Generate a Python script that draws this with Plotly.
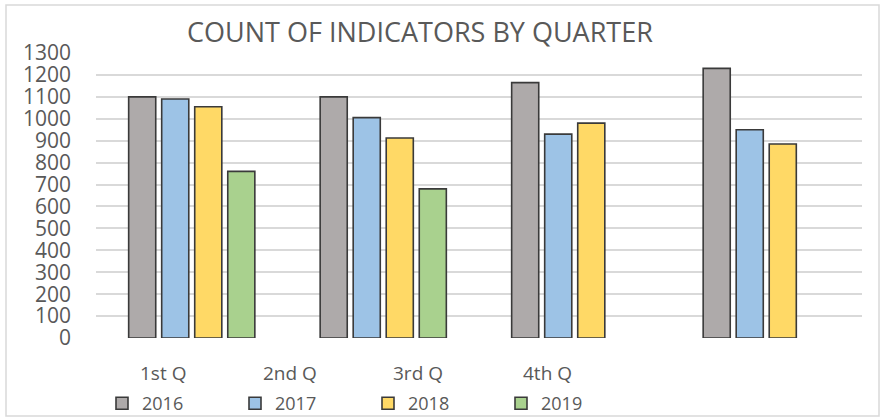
import plotly.graph_objects as go

quarters = ["1st Q", "2nd Q", "3rd Q", "4th Q"]
years = ["2016", "2017", "2018", "2019"]
v2016 = [1100, 1100, 1165, 1230]
v2017 = [1090, 1005, 930, 950]
v2018 = [1055, 912, 980, 885]
v2019 = [760, 680, None, None]
colors = ["#AEAAAA", "#9DC3E6", "#FFD966", "#A9D18E"]
series = [v2016, v2017, v2018, v2019]

W, H = 884, 418
L, R, T, B = 96, 22, 53, 80
font = "Open Sans"
grey = "#595959"

fig = go.Figure()
for name, vals, c in zip(years, series, colors):
    fig.add_trace(go.Bar(
        x=quarters, y=vals, name=name, marker_color=c,
        marker_line_color="#3a3a3a", marker_line_width=1.6,
    ))

# category labels (placed as in the reference)
label_x = [163, 290, 418, 547]
annotations = []
for q, px in zip(quarters, label_x):
    annotations.append(dict(
        text=q, xref="paper", yref="paper",
        x=(px - L) / (W - L - R), y=(H - B - 373) / (H - T - B),
        xanchor="center", yanchor="middle", showarrow=False,
        font=dict(family=font, size=19, color=grey),
    ))

fig.update_layout(
    width=W, height=H,
    margin=dict(l=L, r=R, t=T, b=B, autoexpand=False),
    paper_bgcolor="white", plot_bgcolor="white",
    barmode="group", bargap=0.31, bargroupgap=0.18,
    title=dict(text="COUNT OF INDICATORS BY QUARTER", x=420 / W, xref="container",
               xanchor="center", y=1 - 33 / H, yref="container", yanchor="middle",
               font=dict(family=font, size=27, color=grey)),
    font=dict(family=font, color=grey),
    xaxis=dict(showticklabels=False, showgrid=False, zeroline=False, showline=False, ticks="",
               automargin=False),
    yaxis=dict(range=[0, 1300], dtick=100, showgrid=True, gridcolor="#d9d9d9", gridwidth=1.5,
               zeroline=False, showline=False, ticks="", ticklabelstandoff=24, automargin=False,
               tickfont=dict(family=font, size=21, color=grey)),
    legend=dict(orientation="h", x=102 / W, xref="container", xanchor="left",
                y=1 - 385 / H, yref="container", yanchor="top",
                entrywidth=88, entrywidthmode="pixels", itemwidth=30,
                bgcolor="rgba(0,0,0,0)",
                font=dict(family=font, size=18, color=grey), traceorder="normal"),
    annotations=annotations,
    shapes=[dict(type="rect", xref="paper", yref="paper",
                 x0=(6 - L) / (W - L - R), x1=(879 - L) / (W - L - R),
                 y0=(H - B - 416) / (H - T - B), y1=(H - B - 5) / (H - T - B),
                 line=dict(color="#d9d9d9", width=1.5), layer="below")],
    showlegend=True,
)

fig.write_html("out.html", config={"displayModeBar": False},
               post_script="document.body.style.margin='0px';")
